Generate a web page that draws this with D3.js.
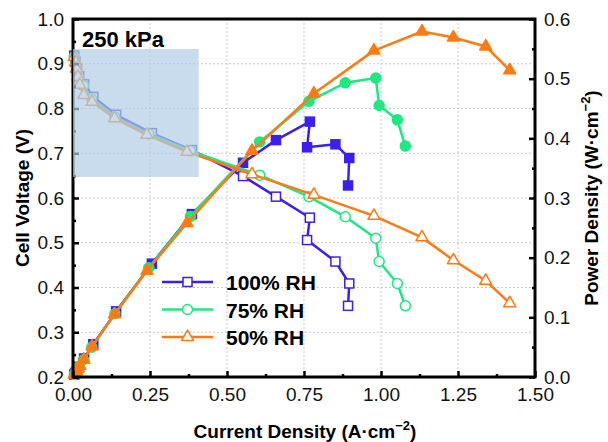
<!DOCTYPE html>
<html>
<head>
<meta charset="utf-8">
<script src="https://cdn.jsdelivr.net/npm/d3@7"></script>
<style>
  html, body { margin: 0; padding: 0; background: #fff; }
  svg { display: block; font-family: "Liberation Sans", Arial, sans-serif; }
</style>
</head>
<body>
<svg id="chart" width="608" height="442"></svg>
<script>
// Polarization and power-density curves at 250 kPa for three humidity levels
const seriesNames = ["100% RH", "75% RH", "50% RH"];
const seriesColors = ["#3b1ff0", "#1de882", "#ff7a12"];
const seriesShapes = ["square", "circle", "triangle"];

// current density (A·cm⁻²)
const current100 = [0.004, 0.008, 0.013, 0.020, 0.036, 0.066, 0.140, 0.256, 0.386, 0.552, 0.659, 0.769, 0.760, 0.852, 0.897, 0.893];
const current75  = [0.004, 0.008, 0.012, 0.019, 0.034, 0.061, 0.136, 0.246, 0.381, 0.606, 0.766, 0.884, 0.983, 0.994, 1.053, 1.079];
const current50  = [0.004, 0.008, 0.011, 0.016, 0.022, 0.035, 0.062, 0.135, 0.240, 0.370, 0.581, 0.782, 0.977, 1.133, 1.235, 1.340, 1.418];

// cell voltage (V)
const voltage100 = [0.918, 0.905, 0.889, 0.872, 0.854, 0.826, 0.786, 0.745, 0.707, 0.649, 0.603, 0.556, 0.506, 0.458, 0.409, 0.359];
const voltage75  = [0.916, 0.903, 0.887, 0.869, 0.851, 0.821, 0.781, 0.743, 0.705, 0.651, 0.603, 0.558, 0.510, 0.458, 0.409, 0.359];
const voltage50  = [0.915, 0.903, 0.889, 0.871, 0.853, 0.830, 0.815, 0.778, 0.741, 0.703, 0.653, 0.607, 0.560, 0.512, 0.461, 0.415, 0.365];

// power density (W·cm⁻²)
const power100 = [0.004, 0.007, 0.012, 0.017, 0.031, 0.055, 0.110, 0.190, 0.273, 0.359, 0.397, 0.428, 0.385, 0.390, 0.367, 0.321];
const power75  = [0.004, 0.007, 0.011, 0.017, 0.029, 0.050, 0.106, 0.183, 0.269, 0.394, 0.462, 0.493, 0.501, 0.455, 0.431, 0.387];
const power50  = [0.004, 0.007, 0.010, 0.014, 0.019, 0.029, 0.051, 0.105, 0.178, 0.258, 0.379, 0.475, 0.547, 0.579, 0.569, 0.554, 0.514];

const currentTicks = [0, 0.25, 0.5, 0.75, 1.0, 1.25, 1.5];
const voltageTicks = [0.2, 0.3, 0.4, 0.5, 0.6, 0.7, 0.8, 0.9, 1.0];
const powerTicks = [0, 0.1, 0.2, 0.3, 0.4, 0.5, 0.6];

const currents = [current100, current75, current50];
const voltages = [voltage100, voltage75, voltage50];
const powers = [power100, power75, power50];

const svg = d3.select("#chart");
const L = 73, R = 535, T = 19, B = 377;

const x = d3.scaleLinear().domain([0, 1.5]).range([L, R]);
const yV = d3.scaleLinear().domain([0.2, 1.0]).range([B, T]);
const yP = d3.scaleLinear().domain([0, 0.6]).range([B, T]);

// dashed grid
const grid = svg.append("g");
grid.selectAll("line.gx").data(currentTicks.slice(1, -1)).join("line")
  .attr("x1", d => x(d)).attr("x2", d => x(d)).attr("y1", T).attr("y2", B)
  .attr("stroke", "#c8c8c8").attr("stroke-width", 1).attr("stroke-dasharray", "2,2");
grid.selectAll("line.gy").data(voltageTicks.slice(1, -1)).join("line")
  .attr("x1", L).attr("x2", R).attr("y1", d => yV(d)).attr("y2", d => yV(d))
  .attr("stroke", "#c8c8c8").attr("stroke-width", 1).attr("stroke-dasharray", "2,2");

// marker drawing
function marker(g, shape, cx, cy, color, filled, scale = 1) {
  const fill = filled ? color : "#fff";
  if (shape === "square") {
    const s = 9 * scale;
    g.append("rect").attr("x", cx - s / 2).attr("y", cy - s / 2).attr("width", s).attr("height", s)
      .attr("fill", fill).attr("stroke", color).attr("stroke-width", 1.5);
  } else if (shape === "circle") {
    g.append("circle").attr("cx", cx).attr("cy", cy).attr("r", 5 * scale)
      .attr("fill", fill).attr("stroke", color).attr("stroke-width", 1.5);
  } else {
    const s = 12 * scale, h = s * 0.866;
    const pts = [[cx, cy - h * 2 / 3], [cx - s / 2, cy + h / 3], [cx + s / 2, cy + h / 3]];
    g.append("polygon").attr("points", pts.map(p => p.join(",")).join(" "))
      .attr("fill", fill).attr("stroke", color).attr("stroke-width", 1.5).attr("stroke-linejoin", "round");
  }
}

const curves = svg.append("g");
seriesNames.forEach((name, i) => {
  const color = seriesColors[i];
  const I = currents[i], V = voltages[i], P = powers[i];
  const g = curves.append("g");
  const lineV = d3.line().x((d, k) => x(I[k])).y(d => yV(d));
  const lineP = d3.line().x((d, k) => x(I[k])).y(d => yP(d));
  g.append("path").attr("d", lineP(P)).attr("fill", "none").attr("stroke", color).attr("stroke-width", 2.5).attr("stroke-linejoin", "round");
  g.append("path").attr("d", lineV(V)).attr("fill", "none").attr("stroke", color).attr("stroke-width", 2.5).attr("stroke-linejoin", "round");
  P.forEach((p, k) => marker(g, seriesShapes[i], x(I[k]), yP(p), color, true));
  V.forEach((v, k) => marker(g, seriesShapes[i], x(I[k]), yV(v), color, false));
});

// axes
const fmt2 = d3.format(".2f"), fmt1 = d3.format(".1f");
const axisFont = g => g.selectAll("text").attr("font-size", 19).attr("fill", "#111").attr("font-family", "'Liberation Sans', Arial, sans-serif");
const styleAxis = g => { g.select(".domain").remove(); g.selectAll(".tick line").attr("stroke", "#000").attr("stroke-width", 2.5); };

const xMinor = d3.range(0.125, 1.5, 0.25);
const vMinor = d3.range(0.25, 1.0, 0.1);
const pMinor = d3.range(0.05, 0.6, 0.1);

svg.append("g").attr("transform", `translate(0,${B})`)
  .call(d3.axisBottom(x).tickValues(currentTicks).tickFormat(fmt2).tickSize(-6).tickPadding(11))
  .call(styleAxis).call(axisFont);
svg.append("g").attr("transform", `translate(0,${B})`)
  .call(d3.axisBottom(x).tickValues(xMinor).tickFormat("").tickSize(-3)).call(styleAxis);

svg.append("g").attr("transform", `translate(${L},0)`)
  .call(d3.axisLeft(yV).tickValues(voltageTicks).tickFormat(fmt1).tickSize(-6).tickPadding(9))
  .call(styleAxis).call(axisFont);
svg.append("g").attr("transform", `translate(${L},0)`)
  .call(d3.axisLeft(yV).tickValues(vMinor).tickFormat("").tickSize(-3)).call(styleAxis);

svg.append("g").attr("transform", `translate(${R},0)`)
  .call(d3.axisRight(yP).tickValues(powerTicks).tickFormat(fmt1).tickSize(-6).tickPadding(9))
  .call(styleAxis).call(axisFont);
svg.append("g").attr("transform", `translate(${R},0)`)
  .call(d3.axisRight(yP).tickValues(pMinor).tickFormat("").tickSize(-3)).call(styleAxis);

// frame
svg.append("rect").attr("x", L).attr("y", T).attr("width", R - L).attr("height", B - T)
  .attr("fill", "none").attr("stroke", "#000").attr("stroke-width", 3);

// shaded low-current region
svg.append("rect")
  .attr("x", x(0)).attr("y", yV(0.933))
  .attr("width", x(0.408) - x(0)).attr("height", yV(0.647) - yV(0.933))
  .attr("fill", "rgb(176,205,231)").attr("opacity", 0.7);

// pressure label
svg.append("text").attr("x", 82).attr("y", 47).attr("font-size", 22).attr("font-weight", "bold")
  .attr("fill", "#000").text("250 kPa");

// axis titles
const xt = svg.append("text").attr("x", (L + R) / 2 + 1).attr("y", 438).attr("text-anchor", "middle")
  .attr("font-size", 19).attr("font-weight", "bold").attr("fill", "#000");
xt.append("tspan").text("Current Density (A·cm");
xt.append("tspan").attr("font-size", 13).attr("dy", -8).text("−2");
xt.append("tspan").attr("dy", 8).text(")");

svg.append("text").attr("transform", `translate(29,${(T + B) / 2}) rotate(-90)`).attr("text-anchor", "middle")
  .attr("font-size", 19).attr("font-weight", "bold").attr("fill", "#000").text("Cell Voltage (V)");

const yt = svg.append("text").attr("transform", `translate(598,${(T + B) / 2}) rotate(-90)`).attr("text-anchor", "middle")
  .attr("font-size", 19).attr("font-weight", "bold").attr("fill", "#000");
yt.append("tspan").text("Power Density (W·cm");
yt.append("tspan").attr("font-size", 13).attr("dy", -8).text("−2");
yt.append("tspan").attr("dy", 8).text(")");

// legend
const legendY = [282, 309.5, 337];
const leg = svg.append("g");
seriesNames.forEach((name, i) => {
  const y = legendY[i];
  leg.append("line").attr("x1", 162).attr("x2", 213).attr("y1", y).attr("y2", y)
    .attr("stroke", seriesColors[i]).attr("stroke-width", 2.5);
  marker(leg, seriesShapes[i], 187.5, y, seriesColors[i], false);
  leg.append("text").attr("x", 226).attr("y", y + 8).attr("font-size", 21).attr("font-weight", "bold")
    .attr("fill", "#000").text(name);
});
</script>
</body>
</html>
